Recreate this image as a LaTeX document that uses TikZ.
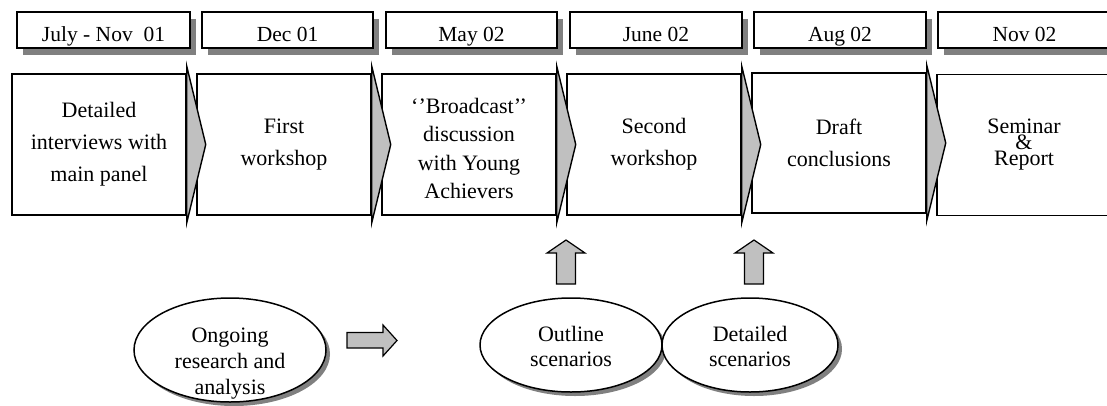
\documentclass[tikz,border=0pt]{standalone}
\usepackage{fontspec}
\setmainfont{Liberation Serif}
\usetikzlibrary{shapes.geometric,shadows,calc}
\definecolor{chevgray}{HTML}{C0C0C0}
\definecolor{shadgray}{HTML}{808080}
\begin{document}
\begin{tikzpicture}[x=1pt,y=-1pt,
 datebox/.style={draw, line width=1.5pt, fill=white, minimum height=36pt, inner sep=0pt,
   text height=26pt, text depth=2.6pt,
   font=\fontsize{21.5}{26}\selectfont,
   drop shadow={shadow xshift=6pt, shadow yshift=-7pt, fill=shadgray, opacity=1}},
 procbox/.style={draw, line width=1.5pt, fill=white, minimum height=141pt, minimum width=174pt,
   inner sep=0pt, align=center, font=\fontsize{22}{32}\selectfont},
 txt/.style={align=center, inner sep=0pt, font=\fontsize{22}{26}\selectfont},
 chev/.style={draw, line width=1.4pt, fill=chevgray, line join=miter},
 oval/.style={ellipse, draw, line width=1.5pt, fill=white, inner sep=0pt,
   drop shadow={shadow xshift=4pt, shadow yshift=-4pt, fill=shadgray, opacity=1}},
 blockarrow/.style={draw, line width=1.2pt, fill=chevgray, line join=miter}]
\useasboundingbox (0,0) rectangle (1107,405);

% date boxes
\node[datebox, minimum width=173pt] (d1) at (103.5,30) {July - Nov\ \ 01};
\node[datebox, minimum width=171pt] (d2) at (287.5,30) {Dec 01};
\node[datebox, minimum width=171pt] (d3) at (471.5,30) {May 02};
\node[datebox, minimum width=172pt] (d4) at (656,30) {June 02};
\node[datebox, minimum width=172pt] (d5) at (840,30) {Aug 02};
\node[datebox, minimum width=173pt] (d6) at (1024.5,30) {Nov 02};

% process boxes
\node[procbox] (p1) at (99,144.5) {Detailed\\interviews with\\main panel};
\node[procbox] (p2) at (284,144.5) {First\\workshop};
\node[procbox] (p3) at (469,144.5) {};
\node[txt, font=\fontsize{22}{28.5}\selectfont] (t3a) at (469,148.5) {‘’Broadcast’’\\discussion\\with Young\\Achievers};
\node[procbox] (p4) at (654,144.5) {Second\\workshop};
\node[procbox, minimum height=140pt] (p5) at (839,143) {Draft\\conclusions};
\node[procbox, font=\fontsize{22}{16}\selectfont] (p6) at (1024,145) {Seminar\\\&\\Report};

% chevrons
\foreach \i in {1,...,5}{
  \draw[chev] ($(p\i.north east)+(0,-7)$) -- ($(p\i.east)+(19,0)$) -- ($(p\i.south east)+(0,7)$) -- cycle;
}

% ellipses
\node[oval, minimum width=192pt, minimum height=104pt] (e1) at (230,350) {};
\node[txt] (t1) at (230,364) {Ongoing\\research and\\analysis};
\node[oval, minimum width=182pt, minimum height=94pt] (e2) at (571,345) {};
\node[txt, font=\fontsize{22}{25}\selectfont] (t2) at (571,346) {Outline\\scenarios};
\node[oval, minimum width=176pt, minimum height=94pt] (e3) at (750,345) {};
\node[txt, font=\fontsize{22}{25}\selectfont] (t3) at (750,346) {Detailed\\scenarios};

% block arrows
\draw[blockarrow] (347,332.5) -- (383,332.5) -- (383,325) -- (397,340.5) -- (383,356) -- (383,348) -- (347,348) -- cycle;
\draw[blockarrow] (556.5,284) -- (556.5,253) -- (547,253) -- (566,240) -- (585,253) -- (575.5,253) -- (575.5,284) -- cycle;
\draw[blockarrow] (744.5,284) -- (744.5,253) -- (735,253) -- (754,240) -- (773,253) -- (763.5,253) -- (763.5,284) -- cycle;
\end{tikzpicture}
\end{document}
